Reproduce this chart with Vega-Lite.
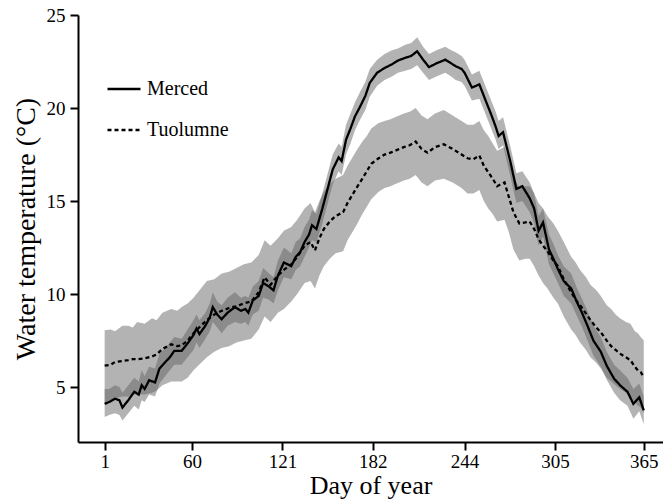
{
  "$schema": "https://vega.github.io/schema/vega-lite/v6.json",
  "autosize": "none",
  "width": 585,
  "height": 427,
  "padding": {"left": 78, "top": 15, "right": 0, "bottom": 62},
  "background": "white",
  "config": {
    "view": {"stroke": null},
    "font": "Liberation Serif",
    "axis": {
      "grid": false,
      "domainColor": "black",
      "domainWidth": 2,
      "tickColor": "black",
      "tickWidth": 2,
      "tickSize": 8,
      "labelFont": "Liberation Serif",
      "labelFontSize": 19,
      "labelColor": "black",
      "titleFont": "Liberation Serif",
      "titleFontWeight": "normal",
      "titleColor": "black"
    }
  },
  "datasets": {
    "bands": [
      {"d":1,"s":"Merced","v":4.1,"lo":3.4,"hi":4.9},
      {"d":4,"s":"Merced","v":4.2,"lo":3.5,"hi":4.9},
      {"d":8,"s":"Merced","v":4.38,"lo":3.6,"hi":5.1},
      {"d":11,"s":"Merced","v":4.29,"lo":3.5,"hi":5.0},
      {"d":13,"s":"Merced","v":3.9,"lo":3.2,"hi":4.7},
      {"d":17,"s":"Merced","v":4.3,"lo":3.6,"hi":5.1},
      {"d":21,"s":"Merced","v":4.75,"lo":4.0,"hi":5.5},
      {"d":24,"s":"Merced","v":4.6,"lo":3.8,"hi":5.3},
      {"d":26,"s":"Merced","v":5.1,"lo":4.3,"hi":5.9},
      {"d":28,"s":"Merced","v":4.9,"lo":4.2,"hi":5.6},
      {"d":31,"s":"Merced","v":5.37,"lo":4.6,"hi":6.1},
      {"d":35,"s":"Merced","v":5.25,"lo":4.5,"hi":6.0},
      {"d":38,"s":"Merced","v":6.0,"lo":5.2,"hi":6.8},
      {"d":42,"s":"Merced","v":6.35,"lo":5.6,"hi":7.1},
      {"d":45,"s":"Merced","v":6.6,"lo":5.9,"hi":7.4},
      {"d":48,"s":"Merced","v":6.95,"lo":6.2,"hi":7.7},
      {"d":53,"s":"Merced","v":6.95,"lo":6.2,"hi":7.6},
      {"d":57,"s":"Merced","v":7.35,"lo":6.6,"hi":8.1},
      {"d":61,"s":"Merced","v":7.8,"lo":7.0,"hi":8.6},
      {"d":63,"s":"Merced","v":8.15,"lo":7.4,"hi":8.9},
      {"d":65,"s":"Merced","v":7.85,"lo":7.1,"hi":8.6},
      {"d":69,"s":"Merced","v":8.3,"lo":7.6,"hi":9.0},
      {"d":72,"s":"Merced","v":8.75,"lo":8.0,"hi":9.5},
      {"d":74,"s":"Merced","v":9.3,"lo":8.5,"hi":10.1},
      {"d":77,"s":"Merced","v":8.9,"lo":8.2,"hi":9.6},
      {"d":80,"s":"Merced","v":8.65,"lo":7.9,"hi":9.4},
      {"d":84,"s":"Merced","v":9.0,"lo":8.3,"hi":9.8},
      {"d":89,"s":"Merced","v":9.3,"lo":8.5,"hi":10.1},
      {"d":93,"s":"Merced","v":9.1,"lo":8.4,"hi":9.8},
      {"d":96,"s":"Merced","v":9.2,"lo":8.5,"hi":9.9},
      {"d":98,"s":"Merced","v":9.0,"lo":8.3,"hi":9.8},
      {"d":101,"s":"Merced","v":9.65,"lo":8.9,"hi":10.4},
      {"d":105,"s":"Merced","v":9.9,"lo":9.1,"hi":10.7},
      {"d":108,"s":"Merced","v":10.6,"lo":9.8,"hi":11.4},
      {"d":112,"s":"Merced","v":10.4,"lo":9.7,"hi":11.1},
      {"d":115,"s":"Merced","v":10.2,"lo":9.5,"hi":10.9},
      {"d":118,"s":"Merced","v":11.0,"lo":10.2,"hi":11.8},
      {"d":122,"s":"Merced","v":11.7,"lo":10.9,"hi":12.5},
      {"d":127,"s":"Merced","v":11.5,"lo":10.8,"hi":12.2},
      {"d":130,"s":"Merced","v":12.0,"lo":11.3,"hi":12.8},
      {"d":133,"s":"Merced","v":12.25,"lo":11.5,"hi":13.0},
      {"d":136,"s":"Merced","v":12.8,"lo":12.0,"hi":13.6},
      {"d":139,"s":"Merced","v":13.2,"lo":12.5,"hi":14.0},
      {"d":141,"s":"Merced","v":13.7,"lo":12.9,"hi":14.5},
      {"d":144,"s":"Merced","v":13.5,"lo":12.8,"hi":14.3},
      {"d":148,"s":"Merced","v":14.6,"lo":13.8,"hi":15.4},
      {"d":152,"s":"Merced","v":15.8,"lo":15.0,"hi":16.6},
      {"d":155,"s":"Merced","v":16.7,"lo":15.9,"hi":17.5},
      {"d":159,"s":"Merced","v":17.35,"lo":16.6,"hi":18.1},
      {"d":161,"s":"Merced","v":17.15,"lo":16.4,"hi":17.9},
      {"d":164,"s":"Merced","v":18.3,"lo":17.5,"hi":19.1},
      {"d":167,"s":"Merced","v":18.9,"lo":18.1,"hi":19.7},
      {"d":170,"s":"Merced","v":19.55,"lo":18.8,"hi":20.3},
      {"d":173,"s":"Merced","v":20.0,"lo":19.3,"hi":20.8},
      {"d":177,"s":"Merced","v":20.65,"lo":19.9,"hi":21.4},
      {"d":180,"s":"Merced","v":21.35,"lo":20.6,"hi":22.1},
      {"d":185,"s":"Merced","v":21.9,"lo":21.2,"hi":22.6},
      {"d":190,"s":"Merced","v":22.15,"lo":21.5,"hi":22.9},
      {"d":195,"s":"Merced","v":22.35,"lo":21.7,"hi":23.1},
      {"d":199,"s":"Merced","v":22.55,"lo":21.9,"hi":23.2},
      {"d":204,"s":"Merced","v":22.7,"lo":22.0,"hi":23.4},
      {"d":208,"s":"Merced","v":22.8,"lo":22.1,"hi":23.5},
      {"d":212,"s":"Merced","v":23.05,"lo":22.3,"hi":23.8},
      {"d":216,"s":"Merced","v":22.6,"lo":21.9,"hi":23.3},
      {"d":220,"s":"Merced","v":22.2,"lo":21.5,"hi":22.9},
      {"d":225,"s":"Merced","v":22.4,"lo":21.7,"hi":23.1},
      {"d":231,"s":"Merced","v":22.6,"lo":21.9,"hi":23.3},
      {"d":235,"s":"Merced","v":22.4,"lo":21.7,"hi":23.1},
      {"d":238,"s":"Merced","v":22.25,"lo":21.5,"hi":23.0},
      {"d":242,"s":"Merced","v":22.1,"lo":21.4,"hi":22.8},
      {"d":244,"s":"Merced","v":21.9,"lo":21.2,"hi":22.6},
      {"d":249,"s":"Merced","v":21.1,"lo":20.4,"hi":21.8},
      {"d":254,"s":"Merced","v":21.27,"lo":20.5,"hi":22.0},
      {"d":258,"s":"Merced","v":20.45,"lo":19.7,"hi":21.2},
      {"d":262,"s":"Merced","v":19.65,"lo":18.9,"hi":20.4},
      {"d":265,"s":"Merced","v":19.0,"lo":18.3,"hi":19.8},
      {"d":267,"s":"Merced","v":18.5,"lo":17.8,"hi":19.3},
      {"d":270,"s":"Merced","v":18.7,"lo":18.0,"hi":19.5},
      {"d":275,"s":"Merced","v":17.1,"lo":16.3,"hi":17.9},
      {"d":279,"s":"Merced","v":15.65,"lo":14.9,"hi":16.5},
      {"d":283,"s":"Merced","v":15.8,"lo":15.0,"hi":16.6},
      {"d":288,"s":"Merced","v":15.15,"lo":14.4,"hi":16.0},
      {"d":291,"s":"Merced","v":14.6,"lo":13.8,"hi":15.4},
      {"d":294,"s":"Merced","v":13.4,"lo":12.6,"hi":14.2},
      {"d":297,"s":"Merced","v":13.85,"lo":13.1,"hi":14.6},
      {"d":301,"s":"Merced","v":12.4,"lo":11.6,"hi":13.2},
      {"d":304,"s":"Merced","v":11.9,"lo":11.1,"hi":12.7},
      {"d":307,"s":"Merced","v":11.35,"lo":10.6,"hi":12.1},
      {"d":311,"s":"Merced","v":10.7,"lo":9.9,"hi":11.5},
      {"d":316,"s":"Merced","v":10.3,"lo":9.5,"hi":11.1},
      {"d":320,"s":"Merced","v":9.55,"lo":8.8,"hi":10.3},
      {"d":323,"s":"Merced","v":9.05,"lo":8.3,"hi":9.8},
      {"d":327,"s":"Merced","v":8.3,"lo":7.5,"hi":9.1},
      {"d":331,"s":"Merced","v":7.5,"lo":6.7,"hi":8.3},
      {"d":336,"s":"Merced","v":6.9,"lo":6.1,"hi":7.7},
      {"d":340,"s":"Merced","v":6.15,"lo":5.4,"hi":6.9},
      {"d":345,"s":"Merced","v":5.45,"lo":4.7,"hi":6.2},
      {"d":349,"s":"Merced","v":5.1,"lo":4.3,"hi":5.9},
      {"d":354,"s":"Merced","v":4.75,"lo":4.0,"hi":5.5},
      {"d":358,"s":"Merced","v":4.1,"lo":3.3,"hi":4.9},
      {"d":362,"s":"Merced","v":4.45,"lo":3.7,"hi":5.2},
      {"d":365,"s":"Merced","v":3.75,"lo":3.0,"hi":4.5},
      {"d":1,"s":"Tuolumne","v":6.15,"lo":4.1,"hi":8.05},
      {"d":5,"s":"Tuolumne","v":6.2,"lo":4.3,"hi":8.1},
      {"d":8,"s":"Tuolumne","v":6.35,"lo":4.4,"hi":8.0},
      {"d":13,"s":"Tuolumne","v":6.4,"lo":4.5,"hi":8.3},
      {"d":17,"s":"Tuolumne","v":6.45,"lo":4.5,"hi":8.3},
      {"d":20,"s":"Tuolumne","v":6.5,"lo":4.6,"hi":8.2},
      {"d":23,"s":"Tuolumne","v":6.5,"lo":4.6,"hi":8.5},
      {"d":28,"s":"Tuolumne","v":6.55,"lo":4.6,"hi":8.4},
      {"d":33,"s":"Tuolumne","v":6.65,"lo":4.7,"hi":8.7},
      {"d":36,"s":"Tuolumne","v":6.75,"lo":4.8,"hi":8.6},
      {"d":40,"s":"Tuolumne","v":7.05,"lo":5.1,"hi":9.0},
      {"d":46,"s":"Tuolumne","v":7.3,"lo":5.3,"hi":9.2},
      {"d":50,"s":"Tuolumne","v":7.2,"lo":5.3,"hi":9.1},
      {"d":53,"s":"Tuolumne","v":7.25,"lo":5.3,"hi":9.3},
      {"d":57,"s":"Tuolumne","v":7.5,"lo":5.5,"hi":9.5},
      {"d":61,"s":"Tuolumne","v":7.9,"lo":5.9,"hi":9.8},
      {"d":66,"s":"Tuolumne","v":8.3,"lo":6.3,"hi":10.3},
      {"d":70,"s":"Tuolumne","v":8.6,"lo":6.6,"hi":10.7},
      {"d":75,"s":"Tuolumne","v":8.9,"lo":6.9,"hi":10.8},
      {"d":80,"s":"Tuolumne","v":9.1,"lo":7.1,"hi":11.1},
      {"d":85,"s":"Tuolumne","v":9.25,"lo":7.2,"hi":11.2},
      {"d":90,"s":"Tuolumne","v":9.35,"lo":7.4,"hi":11.4},
      {"d":95,"s":"Tuolumne","v":9.5,"lo":7.5,"hi":11.6},
      {"d":100,"s":"Tuolumne","v":9.6,"lo":7.6,"hi":11.7},
      {"d":105,"s":"Tuolumne","v":10.1,"lo":8.1,"hi":12.1},
      {"d":109,"s":"Tuolumne","v":10.9,"lo":8.8,"hi":12.9},
      {"d":113,"s":"Tuolumne","v":10.5,"lo":8.5,"hi":12.6},
      {"d":118,"s":"Tuolumne","v":11.0,"lo":9.0,"hi":13.0},
      {"d":122,"s":"Tuolumne","v":11.3,"lo":9.2,"hi":13.4},
      {"d":127,"s":"Tuolumne","v":11.6,"lo":9.6,"hi":13.6},
      {"d":131,"s":"Tuolumne","v":12.0,"lo":10.0,"hi":14.0},
      {"d":136,"s":"Tuolumne","v":12.6,"lo":10.6,"hi":14.6},
      {"d":140,"s":"Tuolumne","v":12.8,"lo":10.7,"hi":14.9},
      {"d":143,"s":"Tuolumne","v":12.35,"lo":10.3,"hi":14.4},
      {"d":146,"s":"Tuolumne","v":13.0,"lo":11.0,"hi":15.0},
      {"d":149,"s":"Tuolumne","v":13.5,"lo":11.5,"hi":15.5},
      {"d":153,"s":"Tuolumne","v":13.9,"lo":11.9,"hi":15.9},
      {"d":157,"s":"Tuolumne","v":14.2,"lo":12.2,"hi":16.2},
      {"d":162,"s":"Tuolumne","v":14.4,"lo":12.3,"hi":16.4},
      {"d":165,"s":"Tuolumne","v":14.9,"lo":12.9,"hi":16.9},
      {"d":168,"s":"Tuolumne","v":15.3,"lo":13.3,"hi":17.3},
      {"d":171,"s":"Tuolumne","v":15.7,"lo":13.7,"hi":17.7},
      {"d":175,"s":"Tuolumne","v":16.2,"lo":14.3,"hi":18.2},
      {"d":178,"s":"Tuolumne","v":16.6,"lo":14.7,"hi":18.5},
      {"d":181,"s":"Tuolumne","v":17.0,"lo":15.1,"hi":18.9},
      {"d":186,"s":"Tuolumne","v":17.3,"lo":15.5,"hi":19.2},
      {"d":190,"s":"Tuolumne","v":17.5,"lo":15.7,"hi":19.3},
      {"d":194,"s":"Tuolumne","v":17.6,"lo":15.8,"hi":19.4},
      {"d":197,"s":"Tuolumne","v":17.7,"lo":15.9,"hi":19.5},
      {"d":203,"s":"Tuolumne","v":17.9,"lo":16.1,"hi":19.7},
      {"d":207,"s":"Tuolumne","v":18.0,"lo":16.2,"hi":19.8},
      {"d":211,"s":"Tuolumne","v":18.2,"lo":16.4,"hi":20.0},
      {"d":215,"s":"Tuolumne","v":17.8,"lo":16.0,"hi":19.6},
      {"d":219,"s":"Tuolumne","v":17.6,"lo":15.8,"hi":19.4},
      {"d":224,"s":"Tuolumne","v":17.9,"lo":16.1,"hi":19.7},
      {"d":230,"s":"Tuolumne","v":18.05,"lo":16.2,"hi":19.9},
      {"d":236,"s":"Tuolumne","v":17.8,"lo":16.0,"hi":19.6},
      {"d":242,"s":"Tuolumne","v":17.5,"lo":15.7,"hi":19.3},
      {"d":246,"s":"Tuolumne","v":17.3,"lo":15.4,"hi":19.1},
      {"d":250,"s":"Tuolumne","v":17.25,"lo":15.4,"hi":19.1},
      {"d":254,"s":"Tuolumne","v":17.45,"lo":15.6,"hi":19.3},
      {"d":257,"s":"Tuolumne","v":16.9,"lo":15.0,"hi":18.8},
      {"d":260,"s":"Tuolumne","v":16.55,"lo":14.6,"hi":18.5},
      {"d":263,"s":"Tuolumne","v":16.2,"lo":14.3,"hi":18.1},
      {"d":266,"s":"Tuolumne","v":15.8,"lo":13.9,"hi":17.7},
      {"d":271,"s":"Tuolumne","v":16.0,"lo":14.0,"hi":17.9},
      {"d":274,"s":"Tuolumne","v":15.2,"lo":13.3,"hi":17.1},
      {"d":277,"s":"Tuolumne","v":14.4,"lo":12.4,"hi":16.3},
      {"d":281,"s":"Tuolumne","v":13.8,"lo":11.8,"hi":15.7},
      {"d":285,"s":"Tuolumne","v":13.85,"lo":11.9,"hi":15.8},
      {"d":288,"s":"Tuolumne","v":13.9,"lo":11.9,"hi":15.8},
      {"d":291,"s":"Tuolumne","v":13.5,"lo":11.5,"hi":15.4},
      {"d":294,"s":"Tuolumne","v":12.95,"lo":11.0,"hi":14.9},
      {"d":297,"s":"Tuolumne","v":12.6,"lo":10.6,"hi":14.6},
      {"d":300,"s":"Tuolumne","v":12.3,"lo":10.3,"hi":14.2},
      {"d":304,"s":"Tuolumne","v":11.8,"lo":9.8,"hi":13.8},
      {"d":307,"s":"Tuolumne","v":11.5,"lo":9.5,"hi":13.4},
      {"d":311,"s":"Tuolumne","v":10.8,"lo":8.8,"hi":12.8},
      {"d":316,"s":"Tuolumne","v":10.1,"lo":8.1,"hi":12.0},
      {"d":319,"s":"Tuolumne","v":9.7,"lo":7.8,"hi":11.7},
      {"d":322,"s":"Tuolumne","v":9.4,"lo":7.4,"hi":11.3},
      {"d":326,"s":"Tuolumne","v":8.95,"lo":7.0,"hi":10.9},
      {"d":329,"s":"Tuolumne","v":8.6,"lo":6.6,"hi":10.5},
      {"d":333,"s":"Tuolumne","v":8.2,"lo":6.3,"hi":10.2},
      {"d":336,"s":"Tuolumne","v":7.95,"lo":6.0,"hi":9.9},
      {"d":340,"s":"Tuolumne","v":7.5,"lo":5.5,"hi":9.4},
      {"d":343,"s":"Tuolumne","v":7.2,"lo":5.3,"hi":9.2},
      {"d":346,"s":"Tuolumne","v":7.0,"lo":5.1,"hi":8.9},
      {"d":349,"s":"Tuolumne","v":6.8,"lo":4.9,"hi":8.7},
      {"d":353,"s":"Tuolumne","v":6.6,"lo":4.7,"hi":8.5},
      {"d":356,"s":"Tuolumne","v":6.45,"lo":4.5,"hi":8.4},
      {"d":359,"s":"Tuolumne","v":6.1,"lo":4.2,"hi":8.0},
      {"d":361,"s":"Tuolumne","v":5.9,"lo":4.0,"hi":7.9},
      {"d":363,"s":"Tuolumne","v":5.8,"lo":3.9,"hi":7.7},
      {"d":365,"s":"Tuolumne","v":5.55,"lo":3.6,"hi":7.5}
    ]
  },
  "data": {"name": "bands"},
  "layer": [
    {
      "mark": {"type": "area", "fill": "#606060", "opacity": 0.48, "interpolate": "linear"},
      "encoding": {
        "x": {"field": "d", "type": "quantitative", "scale": {"domain": [-17, 378], "nice": false, "zero": false},
              "axis": {"values": [1, 60, 121, 182, 244, 305, 365], "title": "Day of year", "labelPadding": 2, "titlePadding": 1, "titleFontSize": 26}},
        "y": {"field": "lo", "type": "quantitative", "scale": {"domain": [2.05, 25], "nice": false, "zero": false},
              "axis": {"values": [5, 10, 15, 20, 25], "title": "Water temperature (°C)", "labelPadding": 5, "titlePadding": 6, "titleFontSize": 28}},
        "y2": {"field": "hi"},
        "detail": {"field": "s", "type": "nominal"}
      }
    },
    {
      "mark": {"type": "line", "color": "black", "strokeWidth": 2.3},
      "encoding": {
        "x": {"field": "d", "type": "quantitative"},
        "y": {"field": "v", "type": "quantitative"},
        "strokeDash": {
          "field": "s", "type": "nominal",
          "scale": {"domain": ["Merced", "Tuolumne"], "range": [[1, 0], [4, 3]]},
          "legend": {
            "title": null,
            "orient": "none",
            "legendX": 28,
            "legendY": 56,
            "padding": 0,
            "symbolType": "stroke",
            "symbolSize": 1089,
            "symbolStrokeWidth": 2.3,
            "symbolStrokeColor": "black",
            "labelFont": "Liberation Serif",
            "labelFontSize": 20,
            "labelColor": "black",
            "labelOffset": 5,
            "rowPadding": 13
          }
        }
      }
    }
  ]
}
